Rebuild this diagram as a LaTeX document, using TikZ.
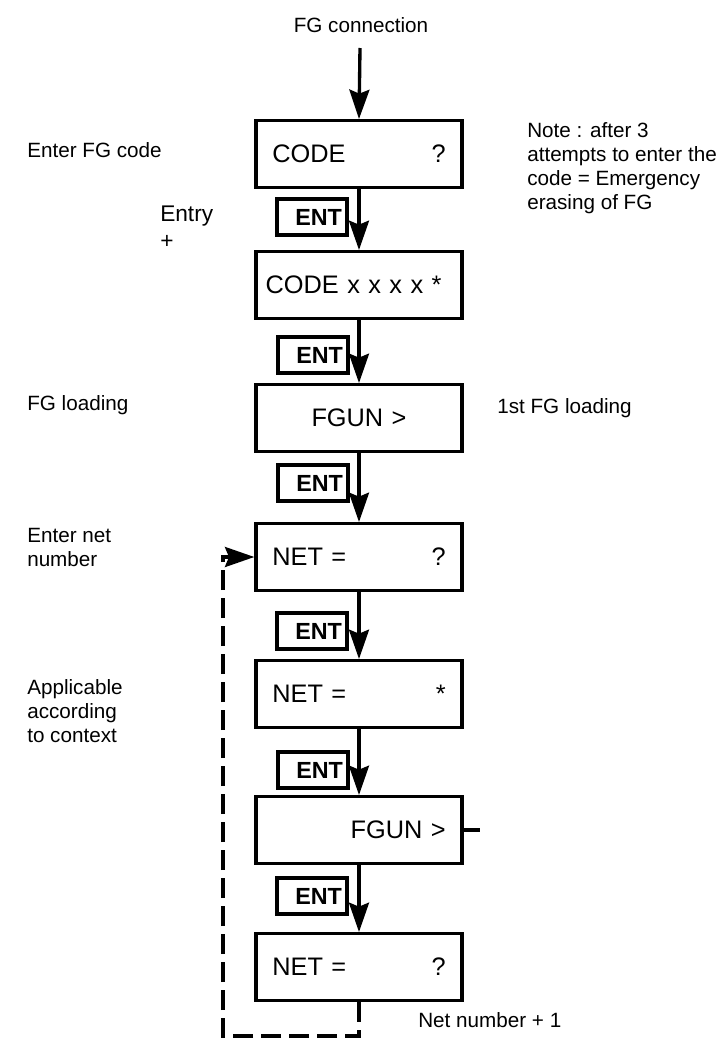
\documentclass[tikz,border=0pt]{standalone}
\usepackage{fontspec}
\setmainfont{Liberation Sans}
\usetikzlibrary{arrows.meta}

\begin{document}
\begin{tikzpicture}[x=0.75pt,y=-0.75pt,
  box/.style={draw,line width=2.5pt,minimum width=154.5pt,minimum height=50pt,
    text width=130pt,align=left,inner sep=0pt,font=\fontsize{19}{22}\selectfont},
  ent/.style={draw,line width=2.5pt,minimum width=52.5pt,minimum height=27pt,
    text width=45pt,align=right,inner sep=0pt,font=\fontsize{17.5}{18}\selectfont\bfseries},
  lbl/.style={font=\fontsize{15.5}{18}\selectfont,align=left,inner sep=0pt,anchor=west},
  arr/.style={-{Stealth[length=22pt,width=15pt,inset=3pt]},line width=2.5pt},
  backarr/.style={arr,dash pattern=on 15pt off 6pt}
]
\useasboundingbox (0,0) rectangle (726,1039);

\node[font=\fontsize{15.5}{18}\selectfont] (title) at (361,25) {FG connection};
\coordinate (top) at (360,48);

% display steps
\node[box] (code) at (359,154) {CODE\hfill?\hspace*{8pt}};
\node[box] (codex) at (359,285) {\hspace*{-5pt}CODE x x x x *};
\node[box,align=center] (fgun) at (359,418) {FGUN >};
\node[box] (net) at (359,557) {NET =\hfill?\hspace*{8pt}};
\node[box] (netstar) at (359,694) {NET =\hfill*\hspace*{8pt}};
\node[box] (fgun2) at (359,830) {\hfill FGUN >\hspace*{16pt}};
\node[box] (net2) at (359,967) {NET =\hfill?\hspace*{8pt}};

% keys
\node[ent] (ent1) at (312,217) {ENT};
\node[ent] (ent2) at (313,355) {ENT};
\node[ent] (ent3) at (313,483) {ENT};
\node[ent] (ent4) at (312,631) {ENT};
\node[ent] (ent5) at (313,770) {ENT};
\node[ent] (ent6) at (312,896) {ENT};

% comments
\node[lbl] (enterfg) at (27,150) {Enter FG code};
\node[lbl,font=\fontsize{17}{20}\selectfont] (entry) at (160,227) {Entry\\+};
\node[lbl] (fgload) at (27,405) {FG loading};
\node[lbl] (enternet) at (27,547) {Enter net\\number};
\node[lbl] (applic) at (27,711) {Applicable\\according\\to context};
\node[lbl] (note) at (527,168) {Note : after 3\\attempts to enter the\\code = Emergency\\erasing of FG};
\node[lbl] (first) at (497,408) {1st FG loading};
\node[lbl] (netplus) at (418,1020) {Net number + 1};

\draw[arr] (top) -- (code.north);
\draw[arr] (code.south) -- (codex.north);
\draw[arr] (codex.south) -- (fgun.north);
\draw[arr] (fgun.south) -- (net.north);
\draw[arr] (net.south) -- (netstar.north);
\draw[arr] (netstar.south) -- (fgun2.north);
\draw[arr] (fgun2.south) -- (net2.north);

\coordinate (stub) at (480,830);
\draw[line width=2.5pt] (fgun2.east) -- (stub);

% loop back
\coordinate (lp) at (223,1036);
\draw[backarr] (net2.south) |- (lp) |- (net.west);
\end{tikzpicture}
\end{document}
